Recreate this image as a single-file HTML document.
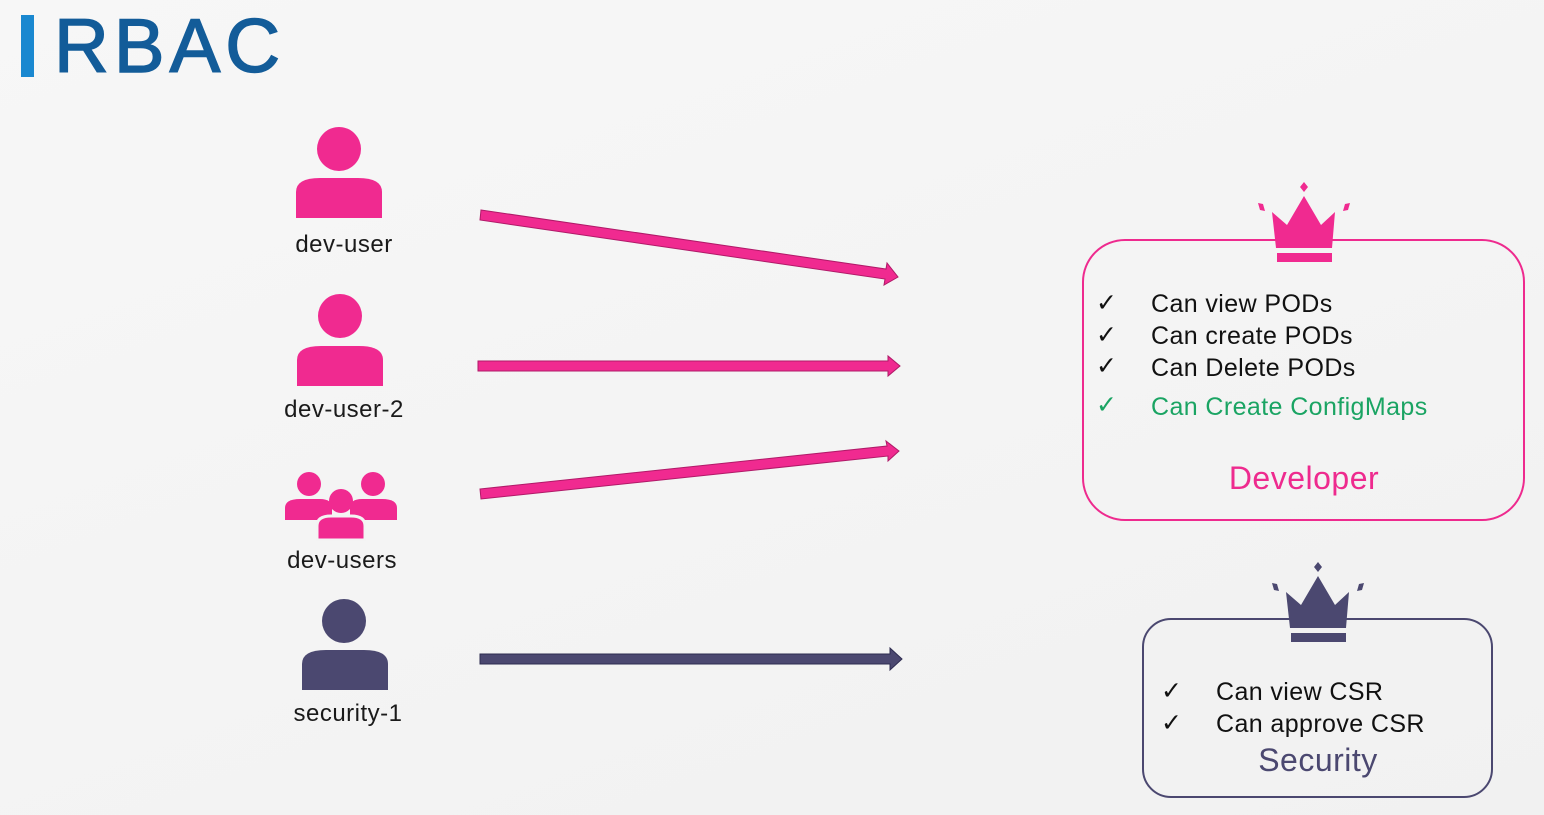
<!DOCTYPE html>
<html><head><style>
body{margin:0;width:1544px;height:815px;overflow:hidden;background:linear-gradient(160deg,#f7f7f7 0%,#f1f1f1 100%);font-family:"Liberation Sans",sans-serif;}
svg{position:absolute;left:0;top:0}
text{font-family:"Liberation Sans",sans-serif}
</style></head><body>
<svg width="1544" height="815" viewBox="0 0 1544 815">
<defs>
<g id="crown">
<polygon points="0,0 4,5 0,10 -4,5"/>
<polygon points="-46,21 -41,22 -39,29 -44,28"/>
<polygon points="46,21 41,22 39,29 44,28"/>
<polygon points="-32,30 -17,43 0,14 17,43 31,30 28,66 -28,66"/>
<rect x="-27" y="71" width="55" height="9"/>
</g>
</defs>
<rect x="21" y="15" width="13" height="62" fill="#1a88d0"/>
<text x="54" y="72" font-size="76" fill="#135c99" letter-spacing="5" stroke="#135c99" stroke-width="1.5">RBAC</text>

<g fill="#f02a90">
<circle cx="339" cy="149" r="22"/>
<path d="M296,218 V192 Q296,178 320,178 H358 Q382,178 382,192 V218 Z"/>
<circle cx="340" cy="316" r="22"/>
<path d="M297,386 V360 Q297,346 321,346 H359 Q383,346 383,360 V386 Z"/>
<circle cx="309" cy="484" r="12"/>
<circle cx="373" cy="484" r="12"/>
<path d="M285,520 V508 Q285,499 300,499 H320 Q332,499 332,508 V520 Z"/>
<path d="M350,520 V508 Q350,499 362,499 H382 Q397,499 397,508 V520 Z"/>
<circle cx="341" cy="501" r="12"/>
<path d="M317,540 V526 Q317,516 331,516 H351 Q365,516 365,526 V540 Z" stroke="#f3f3f3" stroke-width="3"/>
</g>
<g fill="#4b4870">
<circle cx="344" cy="621" r="22"/>
<path d="M302,690 V664 Q302,650 326,650 H364 Q388,650 388,664 V690 Z"/>
</g>
<g font-size="24" fill="#1a1a1a" text-anchor="middle" letter-spacing="0.5">
<text x="344" y="252">dev-user</text>
<text x="344" y="417">dev-user-2</text>
<text x="342" y="568">dev-users</text>
<text x="348" y="721">security-1</text>
</g>

<g stroke="#b01a68" stroke-width="1" fill="#f02a90">
<polygon points="481,210 886,269 887,263 898,277 884,285 885,279 480,220"/>
<polygon points="478,361 888,361 888,356 900,366 888,376 888,371 478,371"/>
<polygon points="480,489 887,446 886,441 899,451 888,461 888,456 481,499"/>
</g>
<polygon points="480,654 890,654 890,648 902,659 890,670 890,664 480,664" fill="#4b4870" stroke="#2e2c50" stroke-width="1"/>

<rect x="1083" y="240" width="441" height="280" rx="42" fill="none" stroke="#ee2a8e" stroke-width="2"/>
<use href="#crown" x="1304" y="182" fill="#f02a90"/>
<g font-size="25" fill="#111" letter-spacing="0.4">
<text x="1096" y="311">✓</text><text x="1151" y="312">Can view PODs</text>
<text x="1096" y="343">✓</text><text x="1151" y="344">Can create PODs</text>
<text x="1096" y="374">✓</text><text x="1151" y="376">Can Delete PODs</text>
<text x="1096" y="413" fill="#1aa463">✓</text><text x="1151" y="415" fill="#1aa463">Can Create ConfigMaps</text>
</g>
<text x="1304" y="489" font-size="32" fill="#ee2a8e" text-anchor="middle" letter-spacing="0.5">Developer</text>

<rect x="1143" y="619" width="349" height="178" rx="28" fill="none" stroke="#4b4870" stroke-width="2"/>
<use href="#crown" x="1318" y="562" fill="#4b4870"/>
<g font-size="25" fill="#111" letter-spacing="0.4">
<text x="1161" y="699">✓</text><text x="1216" y="700">Can view CSR</text>
<text x="1161" y="731">✓</text><text x="1216" y="732">Can approve CSR</text>
</g>
<text x="1318" y="771" font-size="32" fill="#4b4870" text-anchor="middle" letter-spacing="0.5">Security</text>
</svg>
</body></html>
